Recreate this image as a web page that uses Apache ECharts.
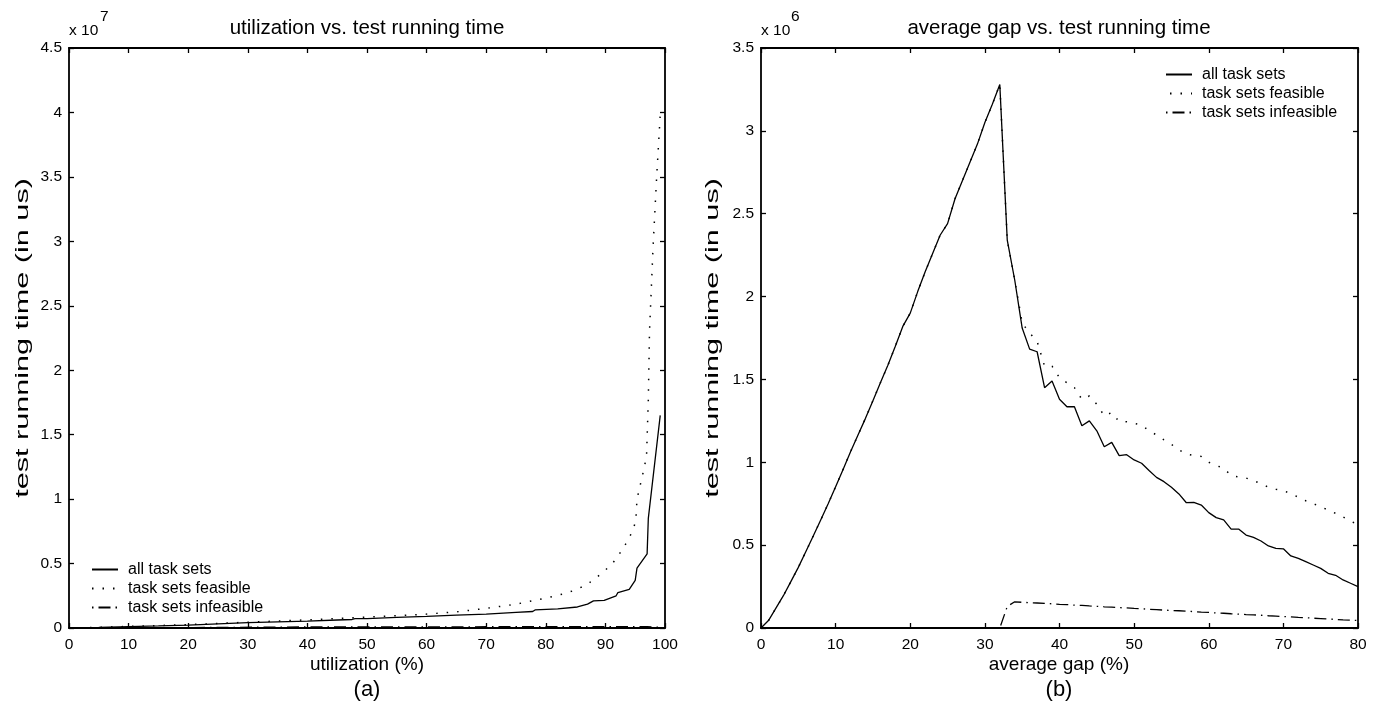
<!DOCTYPE html>
<html>
<head>
<meta charset="utf-8">
<script src="https://cdn.jsdelivr.net/npm/echarts@6/dist/echarts.min.js"></script>
<style>
html,body{margin:0;padding:0;background:#fff;}
#c{width:1386px;height:709px;}
</style>
</head>
<body>
<div id="c"></div>
<script>
// ---------- DATA ----------
// (a) utilization vs test running time, values in units of 10^7 us
const seriesNames = ['all task sets', 'task sets feasible', 'task sets infeasible'];

const utilAll = [0, 5, 10, 15, 20, 25, 30, 35, 40, 45, 47.5, 48, 50, 55, 60, 65, 70, 75, 77.8, 78.2, 82, 82.3, 85.3, 85.6, 87, 88, 89.8, 90, 91.8, 92.1, 94, 95, 95.3, 97, 97.2, 99.2];
const runAll  = [0, 0.004, 0.01, 0.016, 0.023, 0.032, 0.041, 0.048, 0.054, 0.062, 0.066, 0.072, 0.073, 0.082, 0.09, 0.1, 0.108, 0.122, 0.128, 0.14, 0.148, 0.155, 0.163, 0.175, 0.185, 0.21, 0.215, 0.23, 0.25, 0.275, 0.3, 0.37, 0.465, 0.575, 0.85, 1.65];

const utilFeas = [0, 10, 20, 30, 40, 50, 55, 60, 65, 70, 75, 80, 83, 85, 87, 88, 89, 90, 91, 92, 93, 94, 94.6, 95.1, 95.3, 95.8, 96.3, 96.9, 97.2, 97.4, 98.0, 98.6, 99.2];
const runFeas  = [0, 0.012, 0.026, 0.045, 0.063, 0.085, 0.095, 0.108, 0.125, 0.152, 0.185, 0.232, 0.265, 0.295, 0.34, 0.375, 0.41, 0.45, 0.49, 0.55, 0.62, 0.7, 0.76, 0.83, 1.0, 1.1, 1.2, 1.33, 1.77, 2.3, 2.96, 3.5, 3.98];

const utilInf = [0, 20, 40, 60, 80, 97, 99];
const runInf  = [0, 0.003, 0.008, 0.009, 0.01, 0.01, 0.006];

const ticksA_x = [0, 100, 10];   // min, max, interval
const ticksA_y = [0, 4.5, 0.5];

// (b) average gap vs test running time, values in units of 10^6 us
const gapX = [0,1,2,3,4,5,6,7,8,9,10,11,12,13,14,15,16,17,18,19,20,21,22,23,24,25,26,27,28,29,30,31,32,33,34,35,36,37,38,39,40,41,42,43,44,45,46,47,48,49,50,51,52,53,54,55,56,57,58,59,60,61,62,63,64,65,66,67,68,69,70,71,72,73,74,75,76,77,78,79,80];
const gapAll = [0,0.045,0.12,0.195,0.28,0.366,0.46,0.555,0.652,0.75,0.853,0.957,1.063,1.165,1.265,1.372,1.48,1.585,1.70,1.82,1.90,2.03,2.15,2.26,2.37,2.44,2.59,2.70,2.81,2.92,3.05,3.16,3.28,2.34,2.1,1.81,1.683,1.667,1.45,1.49,1.38,1.335,1.335,1.22,1.25,1.19,1.094,1.12,1.04,1.046,1.014,0.994,0.95,0.909,0.883,0.849,0.809,0.756,0.758,0.742,0.696,0.666,0.652,0.597,0.597,0.561,0.547,0.525,0.495,0.48,0.478,0.435,0.42,0.40,0.38,0.36,0.33,0.318,0.29,0.27,0.25];
const gapFeas = [0,0.045,0.12,0.195,0.28,0.366,0.46,0.555,0.652,0.75,0.853,0.957,1.063,1.165,1.265,1.372,1.48,1.585,1.70,1.82,1.90,2.03,2.15,2.26,2.37,2.44,2.59,2.70,2.81,2.92,3.05,3.16,3.28,2.34,2.1,1.84,1.78,1.73,1.58,1.58,1.51,1.48,1.45,1.38,1.40,1.35,1.28,1.30,1.245,1.245,1.235,1.225,1.19,1.165,1.135,1.108,1.075,1.05,1.04,1.035,1.0,0.98,0.965,0.92,0.912,0.905,0.89,0.87,0.85,0.837,0.83,0.81,0.79,0.768,0.75,0.732,0.712,0.692,0.67,0.645,0.625];
const gapInf = [0,0,0,0,0,0,0,0,0,0,0,0,0,0,0,0,0,0,0,0,0,0,0,0,0,0,0,0,0,0,0,0,0,0.13,0.158,0.155,0.153,0.151,0.148,0.146,0.143,0.141,0.138,0.136,0.133,0.131,0.128,0.126,0.123,0.121,0.118,0.116,0.113,0.111,0.108,0.106,0.104,0.101,0.099,0.096,0.094,0.091,0.089,0.086,0.084,0.081,0.079,0.077,0.074,0.072,0.069,0.067,0.064,0.062,0.059,0.057,0.054,0.052,0.049,0.047,0.045];

const ticksB_x = [0, 80, 10];
const ticksB_y = [0, 3.5, 0.5];

// ---------- CHART ----------
const FONT = "'Liberation Sans', Arial, Helvetica, sans-serif";
const zip = (xs, ys) => xs.map((x, i) => [x, ys[i]]);

const lineStyles = [
  {color: '#000', width: 1.3, type: 'solid'},
  {color: '#000', width: 1.5, type: [1.5, 9]},
  {color: '#000', width: 1.3, type: [12, 5, 1.5, 5], dashOffset: 17}
];

function axisBase(showLabel) {
  return {
    axisLine: {show: true, onZero: false, lineStyle: {color: '#000', width: 1.8}},
    axisTick: {show: true, inside: true, length: 5, lineStyle: {color: '#000', width: 1.3}},
    axisLabel: {show: showLabel, color: '#000', fontSize: 15.5, fontFamily: FONT, margin: 9},
    splitLine: {show: false}
  };
}
function xAx(grid, t, pos) {
  return Object.assign(axisBase(pos === 'bottom'), {
    type: 'value', gridIndex: grid, position: pos, min: t[0], max: t[1], interval: t[2]
  });
}
function yAx(grid, t, pos) {
  const a = Object.assign(axisBase(pos === 'left'), {
    type: 'value', gridIndex: grid, position: pos, min: t[0], max: t[1], interval: t[2]
  });
  a.axisLabel.margin = 7;
  return a;
}

function mk(name, xi, yi, data, k) {
  return {
    name: name, type: 'line', xAxisIndex: xi, yAxisIndex: yi, data: data,
    symbol: 'none', showSymbol: false, silent: true, animation: false,
    lineStyle: lineStyles[k], itemStyle: {color: '#000'}, z: 3 - k
  };
}

function legendAt(left, top) {
  return {
    orient: 'vertical', left: left, top: top, padding: 0,
    itemWidth: 26, itemHeight: 14, itemGap: 0,
    data: seriesNames, selectedMode: false,
    itemStyle: {opacity: 0},
    textStyle: {color: '#000', fontSize: 16, fontFamily: FONT, lineHeight: 19, padding: [0, 0, 0, 5]}
  };
}

const chart = echarts.init(document.getElementById('c'), null, {renderer: 'canvas'});
const txt = (x, y, text, size, align, extra) => Object.assign({
  type: 'text', x: x, y: y, silent: true,
  style: {text: text, fill: '#000', fontSize: size, fontFamily: FONT, align: align || 'left', verticalAlign: 'middle'}
}, extra || {});

chart.setOption({
  animation: false,
  backgroundColor: '#fff',
  grid: [
    {left: 69, right: 721, top: 48, bottom: 81},
    {left: 761, right: 28, top: 48, bottom: 81}
  ],
  xAxis: [
    xAx(0, ticksA_x, 'bottom'),
    xAx(0, ticksA_x, 'top'),
    xAx(1, ticksB_x, 'bottom'),
    xAx(1, ticksB_x, 'top')
  ],
  yAxis: [
    yAx(0, ticksA_y, 'left'),
    yAx(0, ticksA_y, 'right'),
    yAx(1, ticksB_y, 'left'),
    yAx(1, ticksB_y, 'right')
  ],
  legend: [legendAt(91, 560), legendAt(1165, 65)],
  graphic: [
    txt(367, 28, 'utilization vs. test running time', 20.5, 'center'),
    txt(1059, 28, 'average gap vs. test running time', 20.5, 'center'),
    txt(69, 31, 'x 10', 15.5),
    txt(100, 16.5, '7', 15.5),
    txt(761, 31, 'x 10', 15.5),
    txt(791, 16.5, '6', 15.5),
    txt(367, 665, 'utilization (%)', 19, 'center'),
    txt(1059, 665, 'average gap (%)', 19, 'center'),
    txt(367, 690, '(a)', 22, 'center'),
    txt(1059, 690, '(b)', 22, 'center'),
    txt(23, 338, 'test running time (in us)', 18, 'center', {rotation: Math.PI / 2, scaleX: 1.7}),
    txt(713, 338, 'test running time (in us)', 18, 'center', {rotation: Math.PI / 2, scaleX: 1.7})
  ],
  series: [
    mk(seriesNames[0], 0, 0, zip(utilAll, runAll), 0),
    mk(seriesNames[1], 0, 0, zip(utilFeas, runFeas), 1),
    mk(seriesNames[2], 0, 0, zip(utilInf, runInf), 2),
    mk(seriesNames[0], 2, 2, zip(gapX, gapAll), 0),
    mk(seriesNames[1], 2, 2, zip(gapX, gapFeas), 1),
    mk(seriesNames[2], 2, 2, zip(gapX, gapInf), 2)
  ]
});
</script>
</body>
</html>
